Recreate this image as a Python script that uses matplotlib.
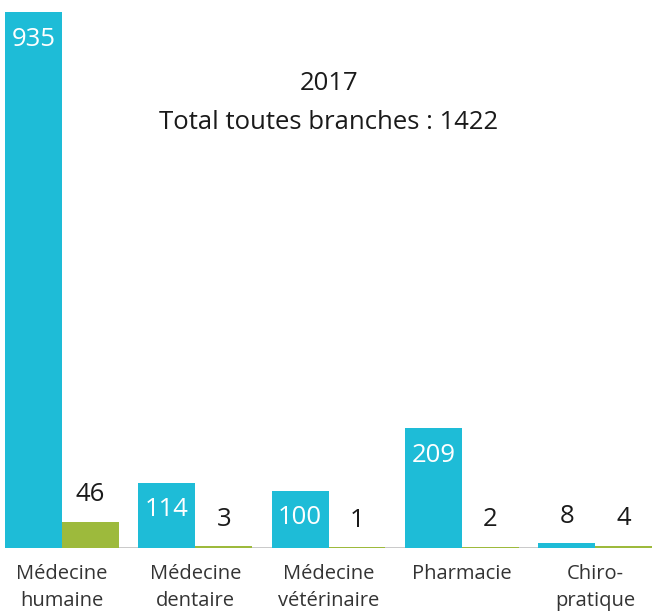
import numpy as np
import matplotlib.pyplot as plt

# données
categories = ['Médecine\nhumaine', 'Médecine\ndentaire', 'Médecine\nvétérinaire', 'Pharmacie', 'Chiro-\npratique']
serie_bleue = [935, 114, 100, 209, 8]
serie_verte = [46, 3, 1, 2, 4]
annee = '2017'
total = 1422

BLEU = '#1EBCD7'
VERT = '#9DBA3C'
TEXTE = '#1a1a1a'

plt.rcParams['font.family'] = ['Open Sans', 'DejaVu Sans']

fig = plt.figure(figsize=(6.52, 6.12), dpi=100)
ax = fig.add_axes([5 / 652, 64 / 612, 647 / 652, 536 / 612])

x = np.arange(len(categories))
w = 0.427
ax.bar(x - w / 2, serie_bleue, width=w, color=BLEU, zorder=2)
ax.bar(x + w / 2, serie_verte, width=w, color=VERT, zorder=2)
ax.axhline(0, color='#C4C4C4', lw=2, zorder=1)

for xi, v in zip(x, serie_bleue):
    if v > 50:
        ax.annotate(str(v), (xi - w / 2, v), xytext=(0, -27), textcoords='offset pixels',
                    ha='center', va='center', color='white', fontsize=18.5)
    else:
        ax.annotate(str(v), (xi - w / 2, v), xytext=(0, 27), textcoords='offset pixels',
                    ha='center', va='center', color=TEXTE, fontsize=18.5)
for xi, v in zip(x, serie_verte):
    ax.annotate(str(v), (xi + w / 2, v), xytext=(0, 27), textcoords='offset pixels',
                ha='center', va='center', color=TEXTE, fontsize=18.5)

ax.set_xlim(-w, len(categories) - 1 + w)
ax.set_ylim(0, 935)
ax.axis('off')

for xi, lab in zip(x, categories):
    ax.annotate(lab, (xi, 0), xytext=(0, -16), textcoords='offset pixels',
                ha='center', va='top', fontsize=14.5, color='#333333', linespacing=1.45)

fig.text(329 / 652, 1 - 84 / 612, annee, ha='center', va='center', fontsize=18.5, color=TEXTE)
fig.text(329 / 652, 1 - 123 / 612, f'Total toutes branches : {total}', ha='center', va='center',
         fontsize=18.5, color=TEXTE)

fig.savefig('out.png', dpi=100)
